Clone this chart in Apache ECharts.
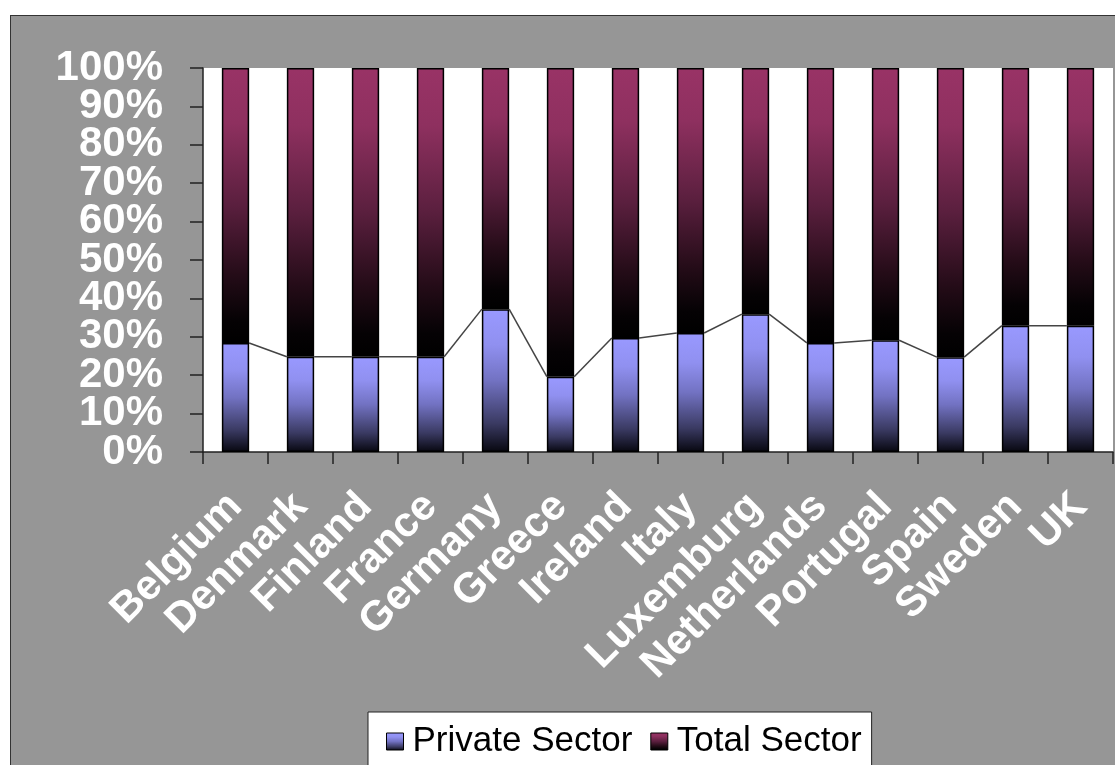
<!DOCTYPE html>
<html>
<head>
<meta charset="utf-8">
<script src="https://cdn.jsdelivr.net/npm/echarts@6/dist/echarts.min.js"></script>
<style>
  html, body { margin: 0; padding: 0; background: #fff; overflow: hidden; }
  #chart {
    position: absolute;
    left: 10px;
    top: 15px;
    width: 1105px;
    height: 750px;
    background: #969696;
    border-left: 1px solid #333;
    border-top: 1px solid #333;
  }
</style>
</head>
<body>
<div id="chart"></div>
<script>
// categories
const countries = ["Belgium", "Denmark", "Finland", "France", "Germany", "Greece", "Ireland",
  "Italy", "Luxemburg", "Netherlands", "Portugal", "Spain", "Sweden", "UK"];
// share of each column (%), 100% stacked
const privateSector = [28.4, 24.8, 24.8, 24.8, 37.2, 19.6, 29.7, 31.0, 35.9, 28.4, 29.1, 24.7, 32.9, 32.9];
const totalSector = [71.6, 75.2, 75.2, 75.2, 62.8, 80.4, 70.3, 69.0, 64.1, 71.6, 70.9, 75.3, 67.1, 67.1];
const seriesNames = ["Private Sector", "Total Sector"];

const BAR_RATIO = 0.42;
const font = "'Liberation Sans', Arial, sans-serif";

// series lines join the top of the private part of neighbouring bars
const linkData = [];
for (let i = 0; i < privateSector.length - 1; i++) {
  linkData.push([i, privateSector[i], privateSector[i + 1]]);
}

const privateFill = new echarts.graphic.LinearGradient(0, 0, 0, 1, [
  { offset: 0, color: "#9999ff" },
  { offset: 0.25, color: "#9090f0" },
  { offset: 0.5, color: "#7272c2" },
  { offset: 0.8, color: "#3a3a62" },
  { offset: 1, color: "#07070f" }
]);
const totalFill = new echarts.graphic.LinearGradient(0, 0, 0, 1, [
  { offset: 0, color: "#993366" },
  { offset: 0.2, color: "#8e305f" },
  { offset: 0.5, color: "#5a1f3e" },
  { offset: 0.75, color: "#250c18" },
  { offset: 0.92, color: "#050204" },
  { offset: 1, color: "#000000" }
]);

// the big percent labels touch each other, so even and odd steps go on two stacked axes
function percentAxis(odd) {
  return {
    type: "value",
    position: "left",
    min: 0,
    max: 100,
    interval: 10,
    axisLine: { show: !odd, lineStyle: { color: "#222", width: 1.5 } },
    axisTick: { show: !odd, length: 13, lineStyle: { color: "#222", width: 1.5 } },
    axisLabel: {
      formatter: function (v) {
        return (Math.round(v / 10) % 2 === 1) === odd ? v + "%" : "";
      },
      margin: 40,
      showMinLabel: true,
      showMaxLabel: true,
      hideOverlap: false,
      color: "#fff",
      fontSize: 42,
      fontWeight: "bold",
      fontFamily: font
    },
    splitLine: { show: false }
  };
}

const myChart = echarts.init(document.getElementById("chart"));
const option = {
  animation: false,
  textStyle: { fontFamily: font },
  grid: {
    left: 192,
    top: 52,
    width: 910,
    height: 384,
    show: true,
    backgroundColor: "#ffffff",
    borderWidth: 0
  },
  legend: {
    data: seriesNames,
    left: 357,
    top: 696,
    orient: "horizontal",
    backgroundColor: "#ffffff",
    borderColor: "#222",
    borderWidth: 1,
    padding: [12, 10, 30, 18],
    itemWidth: 17,
    itemHeight: 17,
    itemGap: 18,
    icon: "rect",
    itemStyle: { borderColor: "#000", borderWidth: 1 },
    textStyle: {
      color: "#000",
      fontSize: 35,
      fontFamily: font,
      padding: [0, 0, 0, 4]
    }
  },
  xAxis: {
    type: "category",
    data: countries,
    boundaryGap: true,
    axisLine: { lineStyle: { color: "#222", width: 1.5 } },
    axisTick: { show: true, alignWithLabel: false, length: 12, lineStyle: { color: "#222", width: 1.5 } },
    axisLabel: {
      interval: 0,
      rotate: 45,
      margin: 48,
      hideOverlap: false,
      color: "#fff",
      fontSize: 42,
      fontWeight: "bold",
      fontFamily: font
    },
    splitLine: { show: false }
  },
  yAxis: [percentAxis(false), percentAxis(true)],
  series: [
    {
      name: seriesNames[0],
      type: "bar",
      stack: "share",
      yAxisIndex: 0,
      barWidth: (BAR_RATIO * 100) + "%",
      data: privateSector,
      itemStyle: { color: privateFill, borderColor: "#000", borderWidth: 1.5 }
    },
    {
      name: seriesNames[1],
      type: "bar",
      stack: "share",
      yAxisIndex: 0,
      barWidth: (BAR_RATIO * 100) + "%",
      data: totalSector,
      itemStyle: { color: totalFill, borderColor: "#000", borderWidth: 1.5 }
    },
    {
      name: "links",
      type: "custom",
      yAxisIndex: 0,
      data: linkData,
      encode: { x: 0, y: 1 },
      z: 5,
      silent: true,
      renderItem: function (params, api) {
        const i = api.value(0);
        const a = api.coord([i, api.value(1)]);
        const b = api.coord([i + 1, api.value(2)]);
        const half = api.size([1, 0])[0] * BAR_RATIO / 2;
        return {
          type: "line",
          shape: { x1: a[0] + half, y1: a[1], x2: b[0] - half, y2: b[1] },
          style: { stroke: "#444", lineWidth: 1.5 }
        };
      }
    }
  ]
};
myChart.setOption(option);
</script>
</body>
</html>
